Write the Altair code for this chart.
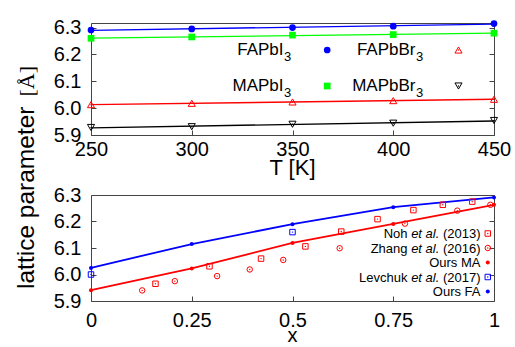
import altair as alt
import pandas as pd

# ---------------- top panel data ----------------
temps = [250, 300, 350, 400, 450]
fapbi3 = [6.291, 6.295, 6.300, 6.305, 6.315]
mapbi3 = [6.260, 6.265, 6.272, 6.274, 6.279]
fapbbr3 = [6.013, 6.018, 6.023, 6.028, 6.033]
mapbbr3 = [5.928, 5.931, 5.940, 5.944, 5.954]
top_series = ["FAPbI3", "MAPbI3", "FAPbBr3", "MAPbBr3"]
top_colors = ["#0000ff", "#00ff00", "#ff0000", "#000000"]
top_shapes = ["circle", "square", "triangle-up", "triangle-down"]
top_legend_main = ["FAPbI", "MAPbI", "FAPbBr", "MAPbBr"]
top_legend_sub = ["3", "3", "3", "3"]
t_ticks = [250, 300, 350, 400, 450]
a_ticks = [5.9, 6.0, 6.1, 6.2, 6.3]

# ---------------- bottom panel data ----------------
x_ours = [0, 0.25, 0.5, 0.75, 1]
ours_fa = [6.025, 6.115, 6.190, 6.254, 6.291]
ours_ma = [5.941, 6.023, 6.119, 6.191, 6.263]
noh_x = [0.160, 0.294, 0.422, 0.532, 0.621, 0.711, 0.800, 0.873, 0.946]
noh_y = [5.965, 6.031, 6.060, 6.106, 6.162, 6.209, 6.243, 6.263, 6.275]
zhang_x = [0.127, 0.208, 0.313, 0.394, 0.477, 0.617, 0.779, 0.909, 0.991]
zhang_y = [5.940, 5.975, 5.994, 6.019, 6.055, 6.099, 6.192, 6.241, 6.263]
lev_x = [0.0, 0.5]
lev_y = [6.000, 6.160]
x_ticks = [0, 0.25, 0.5, 0.75, 1]
bottom_legend = [
    ["Noh", "et al.", "(2013)"],
    ["Zhang", "et al.", "(2016)"],
    ["Ours MA"],
    ["Levchuk", "et al.", "(2017)"],
    ["Ours FA"],
]
y_title_main = "lattice parameter"
y_title_unit = "[Å]"
top_x_title = "T [K]"
bottom_x_title = "x"

FONT = "Liberation Sans"
RED, BLUE = "#ff0000", "#0000ff"
W, H1, H2 = 403, 112, 106

# ---------------- helpers ----------------
def one(label):
    return pd.DataFrame({"t": [label]})

def text(label, x, y, size, align="left", style="normal", font=FONT, angle=0, baseline="alphabetic"):
    kw = dict(align=align, baseline=baseline, font=font, fontSize=size, fontStyle=style, color="black")
    if angle:
        kw["angle"] = angle
    return alt.Chart(one(label)).mark_text(**kw).encode(
        text="t:N", x=alt.value(x), y=alt.value(y))

def marker(x, y, shape, color, filled, size, dot=False):
    kw = dict(shape=shape, size=size, color=color, filled=filled, opacity=1)
    if not filled:
        kw["strokeWidth"] = 1
    layers = [alt.Chart(one("m")).mark_point(**kw).encode(x=alt.value(x), y=alt.value(y))]
    if dot:
        layers.append(alt.Chart(one("m")).mark_point(shape="circle", size=2, color=color,
                                                     filled=True, opacity=1)
                      .encode(x=alt.value(x), y=alt.value(y)))
    return layers

def y_axis(orient, labels):
    return alt.Axis(orient=orient, values=a_ticks, format=".1f", tickSize=5, offset=-5,
                    labels=labels, labelPadding=10, labelFlush=False, domain=False, grid=False,
                    title=None, ticks=True)

# ---------------- top panel ----------------
rows = []
for s, vals in zip(top_series, [fapbi3, mapbi3, fapbbr3, mapbbr3]):
    for t, v in zip(temps, vals):
        rows.append({"T": t, "a": v, "series": s})
top_df = pd.DataFrame(rows)

xt = alt.X("T:Q", scale=alt.Scale(domain=[250, 450], nice=False, zero=False),
           axis=alt.Axis(values=t_ticks, format="d", tickSize=5, offset=-5, labelPadding=4,
                         labelFlush=False, domain=False, grid=False, title=None))
yt_scale = alt.Scale(domain=[5.9, 6.317], nice=False, zero=False)
cscale = alt.Scale(domain=top_series, range=top_colors)
sscale = alt.Scale(domain=top_series, range=top_shapes)

top_lines = alt.Chart(top_df).transform_regression(
    "T", "a", groupby=["series"], extent=[250, 450]
).mark_line(strokeWidth=1.4).encode(
    x=xt, y=alt.Y("a:Q", scale=yt_scale, axis=y_axis("left", True)),
    color=alt.Color("series:N", scale=cscale, legend=None))

top_filled = alt.Chart(top_df).transform_filter(
    alt.FieldOneOfPredicate(field="series", oneOf=top_series[:2])
).mark_point(filled=True, size=45, opacity=1).encode(
    x=xt, y=alt.Y("a:Q", scale=yt_scale, axis=y_axis("right", False)),
    color=alt.Color("series:N", scale=cscale, legend=None),
    shape=alt.Shape("series:N", scale=sscale, legend=None))

top_open = alt.Chart(top_df).transform_filter(
    alt.FieldOneOfPredicate(field="series", oneOf=top_series[2:])
).mark_point(filled=False, size=50, strokeWidth=1, opacity=1).encode(
    x=xt, y=alt.Y("a:Q", scale=yt_scale, axis=None),
    color=alt.Color("series:N", scale=cscale, legend=None),
    shape=alt.Shape("series:N", scale=sscale, legend=None))

top_dots = alt.Chart(top_df).transform_filter(
    alt.FieldOneOfPredicate(field="series", oneOf=top_series[2:])
).mark_point(filled=True, size=2, opacity=1, shape="circle").encode(
    x=xt, y=alt.Y("a:Q", scale=yt_scale, axis=None),
    color=alt.Color("series:N", scale=cscale, legend=None))

# top legend
top_leg = []
col_text_x = [192.5, 192.5, 324.5, 324.5]
col_mark_x = [236.2, 236.2, 367.5, 367.5]
row_base = [31.5, 68, 31.5, 68]
row_mark = [27, 63, 27, 63]
for i in range(4):
    top_leg.append(text(top_legend_main[i], col_text_x[i], row_base[i], 17, align="right"))
    top_leg.append(text(top_legend_sub[i], col_text_x[i] + 0.5, row_base[i] + 6, 13, align="left"))
    top_leg += marker(col_mark_x[i], row_mark[i], top_shapes[i], top_colors[i],
                      i < 2, 45 if i < 2 else 50, dot=(i >= 2))

anchor = alt.Chart(one("a")).mark_rule(strokeOpacity=0, strokeWidth=0).encode(
    x=alt.value(-90.5), x2=alt.value(-90.5), y=alt.value(-22), y2=alt.value(-22))

top_title = text(top_x_title, W / 2, 152, 22, align="center")

top = alt.layer(top_lines, top_filled, top_open, top_dots, *top_leg, top_title, anchor).resolve_axis(
    y="independent").properties(width=W, height=H1)

# ---------------- bottom panel ----------------
xb = alt.X("x:Q", scale=alt.Scale(domain=[0, 1], nice=False, zero=False),
           axis=alt.Axis(values=x_ticks, labelExpr="'' + datum.value", tickSize=5, offset=-5,
                         labelPadding=9, labelFlush=False, domain=False, grid=False, title=None))
yb_scale = alt.Scale(domain=[5.9, 6.3], nice=False, zero=False)

ours_rows = []
for s, vals in zip(["Ours MA", "Ours FA"], [ours_ma, ours_fa]):
    for xv, v in zip(x_ours, vals):
        ours_rows.append({"x": xv, "a": v, "grp": s})
ours_df = pd.DataFrame(ours_rows)
oscale = alt.Scale(domain=["Ours MA", "Ours FA"], range=[RED, BLUE])

ours_lines = alt.Chart(ours_df).mark_line(strokeWidth=1.8).encode(
    x=xb, y=alt.Y("a:Q", scale=yb_scale, axis=y_axis("left", True)),
    stroke=alt.Stroke("grp:N", scale=oscale, legend=None))
ours_pts = alt.Chart(ours_df).mark_point(filled=True, size=16, opacity=1, shape="circle").encode(
    x=xb, y=alt.Y("a:Q", scale=yb_scale, axis=y_axis("right", False)),
    fill=alt.Fill("grp:N", scale=oscale, legend=None), strokeWidth=alt.value(0))

def exp_layers(xs, ys, shape, color):
    df = pd.DataFrame({"x": xs, "a": ys})
    o = alt.Chart(df).mark_point(shape=shape, size=30, filled=False, strokeWidth=1,
                                 color=color, opacity=1).encode(
        x=xb, y=alt.Y("a:Q", scale=yb_scale, axis=None))
    d = alt.Chart(df).mark_point(shape="circle", size=2, filled=True, color=color,
                                 opacity=1).encode(
        x=xb, y=alt.Y("a:Q", scale=yb_scale, axis=None))
    return [o, d]

exp = exp_layers(noh_x, noh_y, "square", RED) + exp_layers(zhang_x, zhang_y, "circle", RED) + \
    exp_layers(lev_x, lev_y, "square", BLUE)

# bottom legend
LS = 13
def tw(s):
    widths = {" ": .278, "(": .333, ")": .333, ".": .278, "a": .556, "e": .556, "t": .278,
              "l": .222}
    return sum(widths.get(c, .556) for c in s) * LS

bot_leg = []
right = 389.5
leg_marks = [("square", RED, False, 30, True), ("circle", RED, False, 30, True),
             ("circle", RED, True, 16, False), ("square", BLUE, False, 30, True),
             ("circle", BLUE, True, 16, False)]
for i, parts in enumerate(bottom_legend):
    base = 43 + 14.5 * i
    if len(parts) == 3:
        bot_leg.append(text(parts[2], right, base, LS, align="right"))
        r2 = right - tw(parts[2]) - tw(" ")
        bot_leg.append(text(parts[1], r2, base, LS, align="right", style="italic"))
        r3 = r2 - tw(parts[1]) - tw(" ")
        bot_leg.append(text(parts[0], r3, base, LS, align="right"))
    else:
        bot_leg.append(text(parts[0], right, base, LS, align="right"))
    sh, col, fil, sz, dot = leg_marks[i]
    bot_leg += marker(396.8, base - 4.5, sh, col, fil, sz, dot=dot)

ytitle = [
    text(y_title_main, -57.5, 94, 24.5, align="left", angle=270),
    text(y_title_unit, -57.5, -129, 22, align="right", angle=270, font="Liberation Serif"),
]
bot_title = text(bottom_x_title, W / 2, 147, 20, align="center")

bottom = alt.layer(ours_lines, ours_pts, *exp, *bot_leg, *ytitle, bot_title).resolve_axis(
    y="independent").properties(width=W, height=H2)

chart = alt.vconcat(top, bottom, spacing=60, bounds="flush").resolve_scale(
    color="independent", shape="independent", stroke="independent", fill="independent"
).properties(padding=0).configure_view(stroke="#444", strokeWidth=1).configure_axis(
    labelFont=FONT, labelFontSize=20, labelColor="black", tickColor="#444", tickWidth=1
)

chart.save("out.html", embed_options={"renderer": "svg", "actions": False})
